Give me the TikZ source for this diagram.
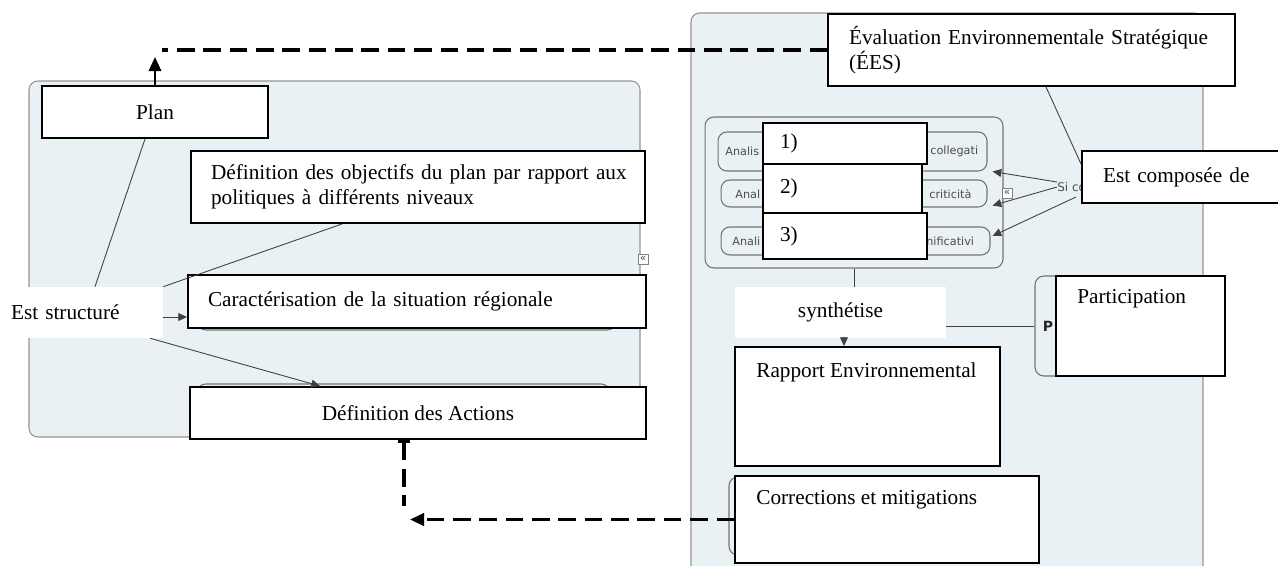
\documentclass[tikz,border=0pt]{standalone}
\usepackage{fontspec}
\setmainfont{Liberation Serif}
\newfontfamily\mapfont{DejaVu Sans}
\usetikzlibrary{arrows.meta}

\begin{document}
\begin{tikzpicture}[x=0.02cm,y=-0.02cm,
  wbox/.style={draw=black, line width=1.1pt, fill=white, inner sep=0pt, font=\fontsize{12.1}{14.4}\selectfont},
  wlab/.style={fill=white, inner sep=0pt, font=\fontsize{12.1}{14.4}\selectfont},
  wtext/.style={inner sep=0pt, anchor=west, font=\fontsize{12.1}{14.4}\selectfont},
  panel/.style={draw=gray!85, line width=0.6pt, fill=panelblue, rounded corners=5pt},
  mapbox/.style={draw=gray!90!black, line width=0.6pt, fill=panelblue, rounded corners=5pt, inner sep=0pt},
  maptext/.style={inner sep=0pt, text=black!70, font=\mapfont\fontsize{6.4}{7}\selectfont},
  plier/.style={draw=gray, fill=white, inner sep=0pt, minimum size=0.2cm, text=black!70, font=\mapfont\fontsize{6}{6}\selectfont},
  link/.style={draw=black!75, line width=0.5pt},
  fleche/.style={link, -{Triangle[width=4.5pt,length=5pt]}},
  lien/.style={line width=2pt, dash pattern=on 10pt off 5pt}
]
\definecolor{panelblue}{RGB}{234,241,244}
\useasboundingbox (0,0) rectangle (1278,565);

% fonds de la carte
\draw[panel] (29,81) rectangle (640,437);
\draw[panel] (691,13) rectangle (1203,578);
\draw[mapbox] (197,279) rectangle (616,330);
\draw[mapbox] (197,384) rectangle (610,436);
\node[plier] (plier-g) at (643,259) {«};

% bloc des analyses
\node[mapbox, minimum width=5.96cm, minimum height=3.02cm] (groupe) at (854,192.5) {};
\node[mapbox, minimum width=5.38cm, minimum height=0.78cm] (row1) at (852.5,151.5) {};
\node[mapbox, minimum width=5.32cm, minimum height=0.54cm] (row2) at (854,193.5) {};
\node[mapbox, minimum width=5.38cm, minimum height=0.56cm] (row3) at (855.5,241) {};
\node[maptext, anchor=west] (row1-g) at (725,151) {Analis};
\node[maptext, anchor=west] (row1-d) at (930,151) {collegati};
\node[maptext, anchor=west] (row2-g) at (735,194) {Anal};
\node[maptext, anchor=west] (row2-d) at (929,194) {criticità};
\node[maptext, anchor=west] (row3-g) at (732,241) {Anali};
\node[maptext, anchor=west] (row3-d) at (926,241) {nificativi};
\node[maptext, anchor=west, font=\mapfont\fontsize{6.8}{7}\selectfont] (sico) at (1057,187) {Si co};
\node[plier] (plier-d) at (1007,193) {«};
\node[mapbox, minimum width=0.7cm, minimum height=2cm] (part-fond) at (1052.5,326) {};
\node[inner sep=0pt, text=black!85, font=\mapfont\bfseries\fontsize{8}{8}\selectfont] (part-p) at (1048,326) {P};
\node[mapbox, minimum width=0.62cm, minimum height=1.56cm] (corr-fond) at (744.5,516) {};

% boites blanches
\node[wbox, minimum width=4.52cm, minimum height=1.04cm] (plan) at (155,112) {Plan};
\node[wbox, minimum width=9.08cm, minimum height=1.44cm, inner xsep=0.4cm, text width=8.28cm, align=left] (objectifs) at (418,187)
  {\mbox{Définition des objectifs du plan par rapport aux}\\politiques à différents niveaux};
\node[wbox, minimum width=9.16cm, minimum height=1.06cm, inner xsep=0.4cm, text width=8.36cm, align=left] (caract) at (417,301.5)
  {Caractérisation de la situation régionale};
\node[wbox, minimum width=9.12cm, minimum height=1.04cm] (actions) at (418,413) {Définition des Actions};
\node[wlab, minimum width=3.26cm, minimum height=1.02cm, inner xsep=0.22cm, text width=2.82cm, align=left] (struct) at (81.5,312.5) {Est structuré};

\node[wbox, minimum width=8.14cm, minimum height=1.44cm, inner xsep=0.42cm, text width=7.3cm, align=left] (ees) at (1031.5,50)
  {Évaluation Environnementale Stratégique\\(ÉES)};
\node[wbox, minimum width=3.28cm, minimum height=0.82cm, inner xsep=0.34cm, text width=2.6cm, align=left] (n1) at (845,143.5) {1)};
\node[wbox, minimum width=3.18cm, minimum height=0.98cm, inner xsep=0.34cm, text width=2.5cm, align=left] (n2) at (842.5,188.5) {2)};
\node[wbox, minimum width=3.28cm, minimum height=0.92cm, inner xsep=0.34cm, text width=2.6cm, align=left] (n3) at (845,236) {3)};
\node[wbox, minimum width=4.0cm, minimum height=1.04cm, inner xsep=0.42cm, text width=3.16cm, align=left] (compo) at (1182,177) {Est composée de};
\node[wlab, minimum width=4.22cm, minimum height=1.02cm] (synth) at (840.5,312.5) {synthétise};
\node[wbox, minimum width=5.3cm, minimum height=2.38cm] (rapport) at (867.5,406.5) {};
\node[wtext] (rapport-t) at (756,372) {Rapport Environnemental};
\node[wbox, minimum width=3.38cm, minimum height=2cm] (particip) at (1140.5,326) {};
\node[wtext] (particip-t) at (1077,299) {Participation};
\node[wbox, minimum width=6.08cm, minimum height=1.74cm] (corr) at (887,519.5) {};
\node[wtext] (corr-t) at (756,500) {Corrections et mitigations};

% liens de la carte
\draw[link] ([xshift=-0.2cm]plan.south) -- ([xshift=0.27cm]struct.north);
\draw[link] ([xshift=-1.52cm]objectifs.south) -- (struct.north east);
\draw[fleche] ([yshift=-0.09cm]struct.east) -- ([yshift=-0.09cm]struct.east -| caract.west);
\draw[fleche] ([xshift=-0.26cm]struct.south east) -- ([xshift=-1.96cm]actions.north);
\draw[fleche] ([yshift=0.1cm]sico.west) -- ([xshift=0.1cm]row1.south east);
\draw[fleche] (sico.west) -- ([xshift=0.1cm,yshift=0.04cm]row2.south east);
\draw[fleche] ([xshift=0.38cm,yshift=-0.2cm]sico.west) -- ([xshift=0.04cm,yshift=0.1cm]row3.east);
\draw[link] ([xshift=0.29cm]ees.south) -- ([yshift=-0.28cm]compo.north west);
\draw[link] (groupe.south) -- (groupe.south |- synth.north);
\draw[link] ([yshift=-0.27cm]synth.east) -- ([yshift=-0.27cm]synth.east -| part-fond.west);
\draw[fleche] ([xshift=0.07cm]synth.south) -- ([xshift=0.07cm]synth.south |- rapport.north);

% liens entre plan et EES
\coordinate (haut) at (162,48);
\coordinate (planfleche) at (155,57);
\coordinate (coude) at (404,506);
\coordinate (bas) at (410,519);
\draw[lien] (ees.west) -- (ees.west -| haut);
\draw[line width=1.4pt, -{Triangle[width=7pt,length=8pt]}] (plan.north) -- (planfleche);
\draw[lien, {Bar[width=7pt]}-] (actions.south -| coude) -- (coude);
\draw[lien, -{Triangle[width=7pt,length=8pt]}] (corr.west) -- (corr.west -| bas);
\end{tikzpicture}
\end{document}
